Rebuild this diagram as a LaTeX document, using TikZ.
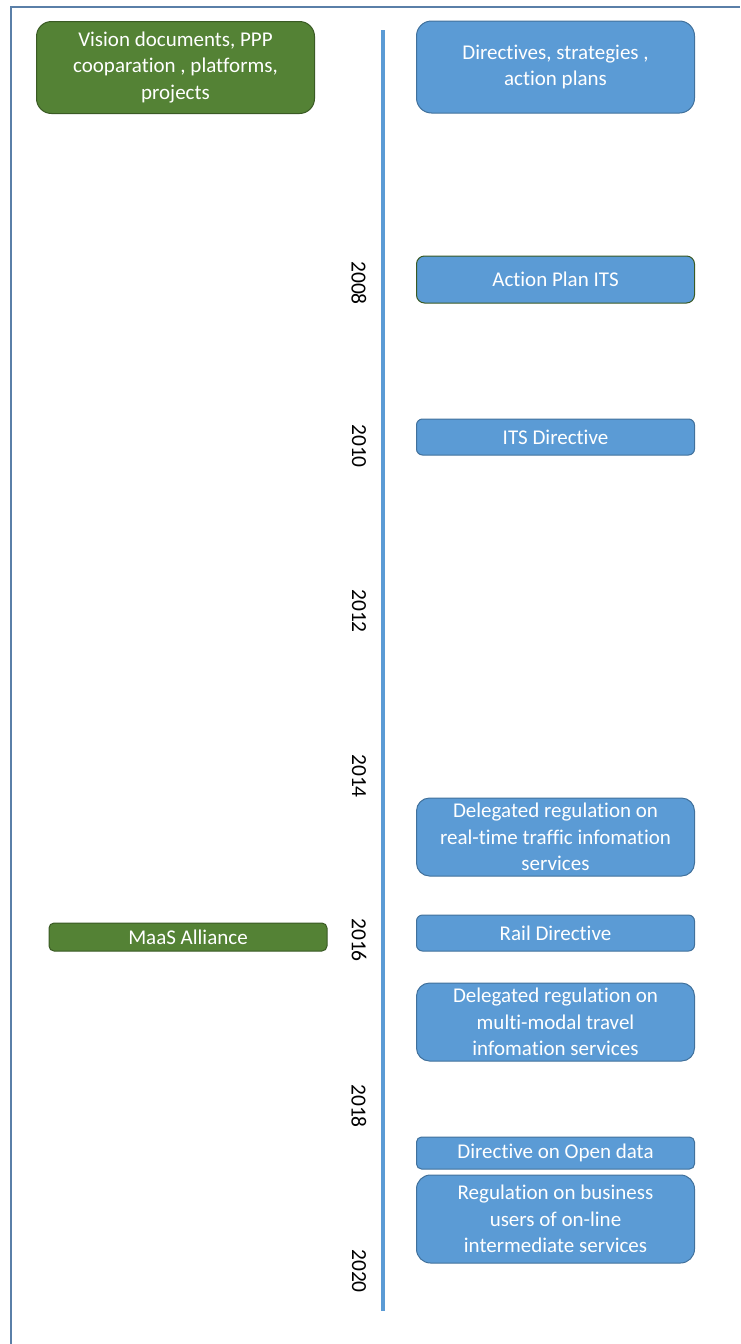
\documentclass[tikz,border=0pt]{standalone}
\usepackage{fontspec}
\setmainfont{Carlito}[Ligatures=NoCommon]
\definecolor{bluefill}{HTML}{5B9BD5}
\definecolor{bluedraw}{HTML}{41719C}
\definecolor{greenfill}{HTML}{548235}
\definecolor{greendraw}{HTML}{3A5A24}
\definecolor{framecol}{HTML}{5A7FA8}
\begin{document}
\begin{tikzpicture}[x=1pt,y=-1pt,
  boxtext/.style={text=white, align=center, inner sep=0pt, line width=1pt,
    font=\fontsize{21}{26.5}\selectfont},
  bluebox/.style={boxtext, draw=bluedraw, fill=bluefill, minimum width=278pt},
  greenbox/.style={boxtext, draw=greendraw, fill=greenfill, minimum width=278pt},
  yearlabel/.style={rotate=-90, inner sep=0pt, text=black, font=\fontsize{21.5}{25}\selectfont},
  timeline/.style={draw=bluefill, line width=4.5pt},
  framestyle/.style={draw=framecol, line width=1.5pt}]
\useasboundingbox (0,0) rectangle (740,1344);
% frame
\coordinate (fbl) at (11,1344);
\coordinate (ftl) at (11,7);
\coordinate (ftr) at (740,7);
\draw[framestyle] (fbl) -- (ftl) -- (ftr);
% timeline
\coordinate (tltop) at (383,30);
\coordinate (tlbot) at (383,1311);
\draw[timeline] (tltop) -- (tlbot);
% years
\node[yearlabel] (y2008) at (359,283) {2008};
\node[yearlabel] (y2010) at (359,446) {2010};
\node[yearlabel] (y2012) at (359,611) {2012};
\node[yearlabel] (y2014) at (359,776) {2014};
\node[yearlabel] (y2016) at (359,940) {2016};
\node[yearlabel] (y2018) at (359,1106) {2018};
\node[yearlabel] (y2020) at (359,1271) {2020};
% left green boxes
\node[greenbox, rounded corners=15pt, minimum height=92pt] (vision) at (175.5,67.5)
  {Vision documents, PPP\\cooparation , platforms,\\projects};
\node[greenbox, rounded corners=5pt, minimum height=28pt] (maas) at (188,937)
  {MaaS Alliance};
% right blue boxes
\node[bluebox, rounded corners=15pt, minimum height=92pt] (dirs) at (555.5,67)
  {Directives, strategies ,\\action plans};
\node[bluebox, draw=greendraw, rounded corners=8pt, minimum height=47pt] (apits) at (555.5,279.5)
  {Action Plan ITS};
\node[bluebox, rounded corners=6pt, minimum height=36pt] (itsdir) at (555.5,437)
  {ITS Directive};
\node[bluebox, rounded corners=13pt, minimum height=78pt] (rtti) at (555.5,837)
  {Delegated regulation on\\real-time traffic infomation\\services};
\node[bluebox, rounded corners=6pt, minimum height=36pt] (rail) at (555.5,933)
  {Rail Directive};
\node[bluebox, rounded corners=13pt, minimum height=78pt] (mmti) at (555.5,1022)
  {Delegated regulation on\\multi-modal travel\\infomation services};
\node[bluebox, rounded corners=5pt, minimum height=32pt] (opendata) at (555.5,1153)
  {Directive on Open data};
\node[bluebox, rounded corners=14pt, minimum height=88pt] (p2b) at (555.5,1219)
  {Regulation on business\\users of on-line\\intermediate services};
\end{tikzpicture}
\end{document}
